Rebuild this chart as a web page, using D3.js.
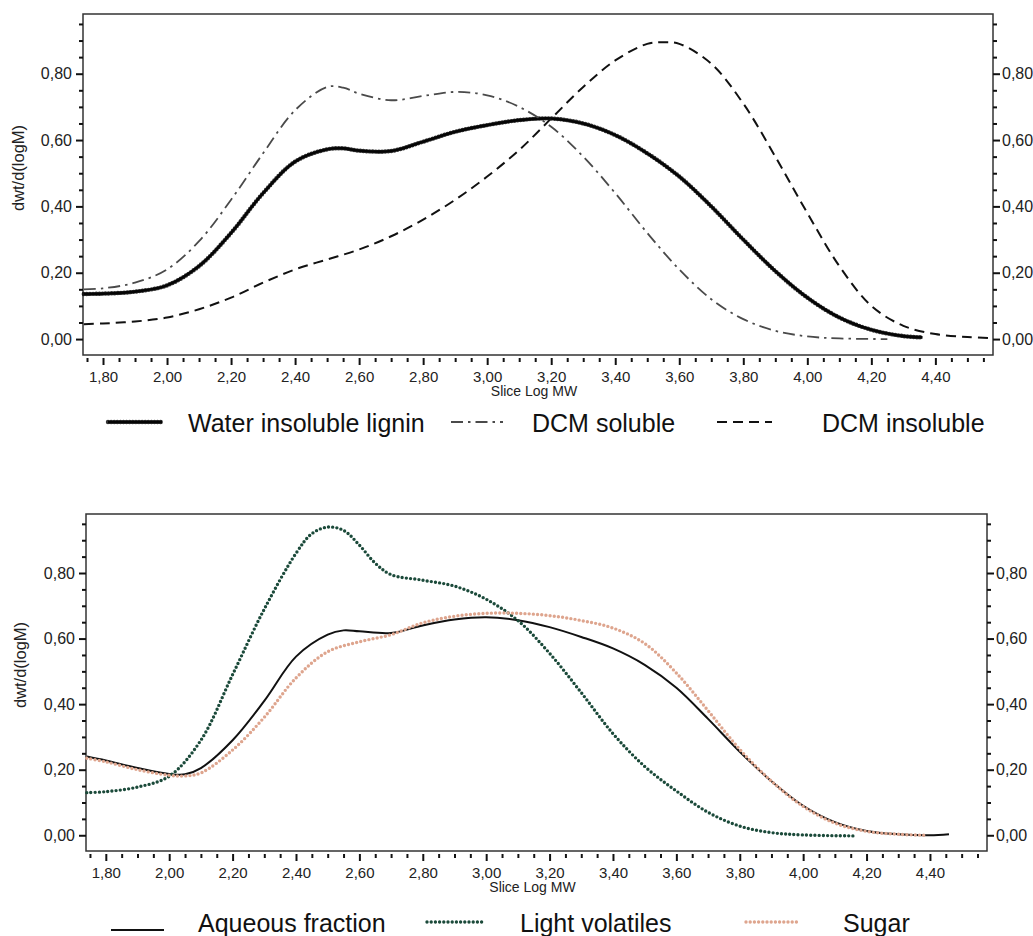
<!DOCTYPE html>
<html><head><meta charset="utf-8">
<script src="https://cdn.jsdelivr.net/npm/d3@7"></script>
<style>
html,body{margin:0;padding:0;background:#fff;}
svg{display:block;font-family:"Liberation Sans",Arial,sans-serif;}
</style></head><body>
<svg id="chart" width="1033" height="936"></svg>
<script>
// ---------- tick values / labels ----------
const xTickValues = [1.8, 2.0, 2.2, 2.4, 2.6, 2.8, 3.0, 3.2, 3.4, 3.6, 3.8, 4.0, 4.2, 4.4];
const xTickLabels = ["1,80","2,00","2,20","2,40","2,60","2,80","3,00","3,20","3,40","3,60","3,80","4,00","4,20","4,40"];
const yTickValues = [0, 0.2, 0.4, 0.6, 0.8];
const yTickLabels = ["0,00","0,20","0,40","0,60","0,80"];
const xAxisTitle = "Slice Log MW";
const yAxisTitle = "dwt/d(logM)";

// ---------- top panel series ----------
const topLegendLabels = ["Water insoluble lignin", "DCM soluble", "DCM insoluble"];
const ligninX = [1.74,1.80,1.90,2.00,2.10,2.20,2.30,2.40,2.50,2.55,2.60,2.70,2.80,2.90,3.00,3.10,3.20,3.30,3.40,3.50,3.60,3.70,3.80,3.90,4.00,4.10,4.20,4.30,4.36];
const ligninY = [0.136,0.137,0.143,0.162,0.22,0.32,0.44,0.535,0.572,0.575,0.568,0.567,0.595,0.625,0.645,0.66,0.665,0.65,0.615,0.56,0.49,0.40,0.30,0.205,0.125,0.065,0.028,0.009,0.005];
const dcmSolX = [1.74,1.80,1.90,2.00,2.10,2.20,2.30,2.40,2.50,2.55,2.60,2.70,2.80,2.90,3.00,3.10,3.20,3.30,3.40,3.50,3.60,3.70,3.80,3.90,4.00,4.10,4.25];
const dcmSolY = [0.15,0.153,0.17,0.21,0.295,0.42,0.56,0.69,0.76,0.758,0.74,0.72,0.733,0.745,0.735,0.70,0.64,0.55,0.44,0.32,0.21,0.12,0.06,0.025,0.008,0.002,0.0];
const dcmInsX = [1.74,1.80,1.90,2.00,2.10,2.20,2.30,2.40,2.50,2.60,2.70,2.80,2.90,3.00,3.10,3.20,3.30,3.40,3.50,3.55,3.60,3.70,3.80,3.90,4.00,4.10,4.20,4.30,4.40,4.50,4.58];
const dcmInsY = [0.045,0.047,0.053,0.065,0.09,0.125,0.17,0.21,0.24,0.27,0.31,0.36,0.42,0.49,0.57,0.665,0.76,0.84,0.89,0.895,0.89,0.83,0.71,0.55,0.38,0.22,0.10,0.04,0.015,0.006,0.003];

// ---------- bottom panel series ----------
const bottomLegendLabels = ["Aqueous fraction", "Light volatiles", "Sugar"];
const aqueousX = [1.74,1.80,1.90,2.00,2.05,2.10,2.20,2.30,2.40,2.50,2.55,2.60,2.70,2.80,2.90,3.00,3.10,3.20,3.30,3.40,3.50,3.60,3.70,3.80,3.90,4.00,4.10,4.20,4.30,4.40,4.46];
const aqueousY = [0.24,0.228,0.205,0.187,0.186,0.205,0.29,0.41,0.545,0.612,0.625,0.622,0.617,0.64,0.658,0.665,0.656,0.635,0.605,0.57,0.52,0.45,0.355,0.255,0.165,0.09,0.04,0.013,0.003,0.0,0.003];
const volatilesX = [1.74,1.80,1.90,2.00,2.10,2.20,2.30,2.40,2.45,2.50,2.55,2.60,2.65,2.70,2.80,2.90,3.00,3.10,3.20,3.30,3.40,3.50,3.60,3.70,3.80,3.90,4.00,4.16];
const volatilesY = [0.13,0.133,0.147,0.18,0.29,0.49,0.69,0.86,0.92,0.94,0.93,0.885,0.83,0.795,0.778,0.76,0.72,0.655,0.555,0.435,0.31,0.21,0.135,0.07,0.028,0.008,0.001,-0.002];
const sugarX = [1.74,1.80,1.90,2.00,2.05,2.10,2.20,2.30,2.40,2.50,2.60,2.70,2.80,2.90,3.00,3.10,3.20,3.30,3.40,3.50,3.60,3.70,3.80,3.90,4.00,4.10,4.20,4.30,4.39];
const sugarY = [0.235,0.224,0.2,0.183,0.181,0.19,0.26,0.36,0.48,0.56,0.59,0.612,0.648,0.668,0.677,0.677,0.67,0.655,0.632,0.585,0.495,0.38,0.262,0.165,0.088,0.037,0.012,0.003,0.0];

// ---------- styles ----------
const styles = {
  lignin:   {type: "beaded", color: "#1a1a1a"},
  dcmSol:   {type: "line", color: "#4a4a4a", width: 1.8, dash: "12,5,2.5,5"},
  dcmIns:   {type: "line", color: "#111", width: 2, dash: "10,6"},
  aqueous:  {type: "line", color: "#111", width: 2},
  volatiles:{type: "dots", color: "#1b4a3a", width: 3.4, gap: 4.2},
  sugar:    {type: "dots", color: "#dea58e", width: 3.4, gap: 4.2}
};

const svg = d3.select("#chart");
const xDomain = [1.7375, 4.58];
const yDomain = [-0.048, 0.98];

function drawPath(g, pts, x, y, st) {
  const line = d3.line().x(d => x(d[0])).y(d => y(d[1])).curve(d3.curveCatmullRom.alpha(0.5));
  const dstr = line(pts);
  if (st.type === "beaded") {
    g.append("path").attr("d", dstr).attr("fill", "none").attr("stroke", st.color).attr("stroke-width", 2.6);
    g.append("path").attr("d", dstr).attr("fill", "none").attr("stroke", "#000").attr("stroke-width", 4.4)
      .attr("stroke-linecap", "round").attr("stroke-dasharray", "0,3.1").attr("stroke-opacity", 0.8);
  } else if (st.type === "dots") {
    g.append("path").attr("d", dstr).attr("fill", "none").attr("stroke", st.color).attr("stroke-width", st.width)
      .attr("stroke-linecap", "round").attr("stroke-dasharray", "0," + st.gap);
  } else {
    const p = g.append("path").attr("d", dstr).attr("fill", "none").attr("stroke", st.color).attr("stroke-width", st.width);
    if (st.dash) p.attr("stroke-dasharray", st.dash);
  }
}

function zip(xs, ys) { return xs.map((v, i) => [v, ys[i]]); }

function drawPanel(p) {
  const g = svg.append("g");
  const x = d3.scaleLinear().domain(xDomain).range([p.left, p.right]);
  const y = d3.scaleLinear().domain(yDomain).range([p.bottom, p.top]);

  // frame
  g.append("rect").attr("x", p.left).attr("y", p.top).attr("width", p.right - p.left).attr("height", p.bottom - p.top)
    .attr("fill", "none").attr("stroke", "#333").attr("stroke-width", 1.5);

  const minorX = d3.range(1.75, 4.56, 0.05).filter(v => !xTickValues.some(t => Math.abs(t - v) < 1e-6));
  const minorY = d3.range(0.05, 0.96, 0.05).filter(v => !yTickValues.some(t => Math.abs(t - v) < 1e-6));

  function styleAxis(sel) {
    sel.select(".domain").remove();
    sel.selectAll(".tick line").attr("stroke", "#111").attr("stroke-width", 2);
  }
  const font = "'Liberation Sans', Arial, sans-serif";
  // x axis
  const xa = g.append("g").attr("transform", `translate(0,${p.bottom + 3})`)
    .call(d3.axisBottom(x).tickValues(xTickValues).tickSize(7).tickPadding(6)
      .tickFormat((d, i) => xTickLabels[i]));
  styleAxis(xa);
  xa.selectAll("text").attr("font-size", 15).attr("fill", "#222").attr("font-family", font);
  const xm = g.append("g").attr("transform", `translate(0,${p.bottom + 3})`)
    .call(d3.axisBottom(x).tickValues(minorX).tickSize(4).tickFormat(""));
  styleAxis(xm);

  // left y axis
  const ya = g.append("g").attr("transform", `translate(${p.left},0)`)
    .call(d3.axisLeft(y).tickValues(yTickValues).tickSize(7).tickPadding(4)
      .tickFormat((d, i) => yTickLabels[i]));
  styleAxis(ya);
  ya.selectAll("text").attr("font-size", 16).attr("fill", "#222").attr("font-family", font);
  const ym = g.append("g").attr("transform", `translate(${p.left},0)`)
    .call(d3.axisLeft(y).tickValues(minorY).tickSize(4).tickFormat(""));
  styleAxis(ym);

  // right y axis
  const yr = g.append("g").attr("transform", `translate(${p.right},0)`)
    .call(d3.axisRight(y).tickValues(yTickValues).tickSize(7).tickPadding(2)
      .tickFormat((d, i) => yTickLabels[i]));
  styleAxis(yr);
  yr.selectAll("text").attr("font-size", 16).attr("fill", "#222").attr("font-family", font);
  const yrm = g.append("g").attr("transform", `translate(${p.right},0)`)
    .call(d3.axisRight(y).tickValues(minorY).tickSize(4).tickFormat(""));
  styleAxis(yrm);

  // titles
  g.append("text").attr("x", (p.left + p.right) / 2 - 4).attr("y", p.bottom + 41)
    .attr("text-anchor", "middle").attr("font-size", 14).attr("fill", "#222").text(xAxisTitle);
  g.append("text").attr("transform", `translate(${p.ytitleX},${p.ytitleY}) rotate(-90)`)
    .attr("text-anchor", "middle").attr("font-size", 16.5).attr("fill", "#222").text(yAxisTitle);

  // series
  const sg = g.append("g");
  p.series.forEach(s => drawPath(sg, zip(s.xs, s.ys), x, y, s.style));

  // legend
  p.legend.forEach((l, i) => {
    const lg = g.append("g");
    const st = p.series[i].style;
    drawPath(lg, [[l.x0, l.ly], [l.x1, l.ly]], v => v, v => v, st);
    lg.append("text").attr("x", l.tx).attr("y", p.legendBaseline).attr("font-size", 25).attr("fill", "#111")
      .text(p.legendLabels[i]);
  });
}

drawPanel({
  left: 83, right: 993, top: 14, bottom: 355,
  ytitleX: 24, ytitleY: 168,
  legendBaseline: 432,
  legendLabels: topLegendLabels,
  series: [
    {xs: ligninX, ys: ligninY, style: styles.lignin},
    {xs: dcmSolX, ys: dcmSolY, style: styles.dcmSol},
    {xs: dcmInsX, ys: dcmInsY, style: styles.dcmIns}
  ],
  legend: [
    {x0: 108, x1: 162, ly: 422, tx: 188},
    {x0: 451, x1: 503, ly: 422, tx: 532},
    {x0: 717, x1: 772, ly: 422, tx: 822}
  ]
});

drawPanel({
  left: 86, right: 987, top: 514, bottom: 851,
  ytitleX: 26, ytitleY: 665,
  legendBaseline: 932,
  legendLabels: bottomLegendLabels,
  series: [
    {xs: aqueousX, ys: aqueousY, style: styles.aqueous},
    {xs: volatilesX, ys: volatilesY, style: styles.volatiles},
    {xs: sugarX, ys: sugarY, style: styles.sugar}
  ],
  legend: [
    {x0: 111, x1: 164, ly: 930, tx: 198},
    {x0: 427, x1: 482, ly: 922, tx: 520},
    {x0: 746, x1: 800, ly: 922, tx: 843}
  ]
});
</script>
</body></html>
